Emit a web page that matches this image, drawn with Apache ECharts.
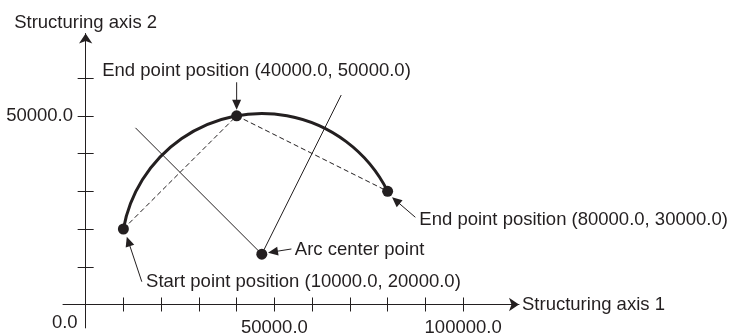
<!DOCTYPE html>
<html><head><meta charset="utf-8">
<script src="https://cdn.jsdelivr.net/npm/echarts@6/dist/echarts.min.js"></script>
<style>html,body{margin:0;padding:0;background:#fff}#c{width:732px;height:333px}</style>
</head><body><div id="c"></div>
<script>
// ---- data ----
const axisNames = ['Structuring axis 1', 'Structuring axis 2'];
const xTickValues = [10000, 20000, 30000, 40000, 50000, 60000, 70000, 80000, 90000, 100000];
const xLabelValues = [50000, 100000];
const yTickValues = [10000, 20000, 30000, 40000, 50000, 60000];
const yLabelValues = [50000];
const originLabel = '0.0';
const startPoint = [10000, 20000];
const passPoint = [40000, 50000];
const endPoint = [80000, 30000];
const centerPoint = [46667, 13333];
const bisectorA = [[13200, 46800], [46667, 13333]];
const bisectorB = [[46667, 13333], [67700, 55500]];
const pointNames = [
  'Start point position (10000.0, 20000.0)',
  'End point position (40000.0, 50000.0)',
  'End point position (80000.0, 30000.0)',
  'Arc center point'
];

// ---- style / layout ----
const INK = '#231f20';
const FONT = '"Liberation Sans", Arial, Helvetica, sans-serif';
const FS = 18.5;
const annotLayout = [
  {tip: [3.4, 7.7], tail: [18.4, 52.7], text: [22.7, 52.7]},
  {tip: [0, -6], tail: [0, -33.5], text: [-134.4, -44.5]},
  {tip: [4.4, 6], tail: [27.7, 26], text: [31.7, 28.8]},
  {tip: [6.2, -1.5], tail: [29.6, -5.2], text: [33, -4.2]}
];

const fmt = v => Number(v).toFixed(1);

function makeX(outer) {
  return {
    type: 'value', position: 'bottom', min: -6000, max: 114800,
    axisLine: {show: true, onZero: true, onZeroAxisIndex: 0,
      symbol: outer ? ['none', 'arrow'] : 'none', symbolSize: [10, 10],
      lineStyle: {color: INK, width: 1, opacity: outer ? 1 : 0}},
    axisTick: {show: true, customValues: xTickValues, inside: !outer, length: 7, lineStyle: {color: INK, width: 1}},
    axisLabel: {show: true, customValues: xLabelValues, formatter: fmt, margin: -9,
      color: outer ? INK : 'rgba(0,0,0,0)', fontSize: FS, fontFamily: FONT},
    splitLine: {show: false},
    name: outer ? axisNames[0] : '', nameLocation: 'end', nameGap: 3, nameMoveOverlap: false,
    nameTextStyle: {color: INK, fontSize: FS, fontFamily: FONT, align: 'left', verticalAlign: 'middle'}
  };
}
function makeY(outer) {
  return {
    type: 'value', position: 'left', min: -6200, max: 71800,
    axisLine: {show: true, onZero: true, onZeroAxisIndex: 0,
      symbol: outer ? ['none', 'arrow'] : 'none', symbolSize: [10, 10],
      lineStyle: {color: INK, width: 1, opacity: outer ? 1 : 0}},
    axisTick: {show: true, customValues: yTickValues, inside: !outer, length: 8, lineStyle: {color: INK, width: 1}},
    axisLabel: {show: true, customValues: yLabelValues, formatter: fmt, margin: -10,
      color: outer ? INK : 'rgba(0,0,0,0)', fontSize: FS, fontFamily: FONT},
    splitLine: {show: false},
    name: outer ? axisNames[1] : '', nameLocation: 'end', nameGap: 1, nameMoveOverlap: false,
    nameTextStyle: {color: INK, fontSize: FS, fontFamily: FONT, align: 'center', verticalAlign: 'bottom'}
  };
}

function renderArc(params, api) {
  const c = api.coord([api.value(0), api.value(1)]);
  const s = api.coord([api.value(2), api.value(3)]);
  const e = api.coord([api.value(4), api.value(5)]);
  const r = Math.hypot(s[0] - c[0], s[1] - c[1]);
  return {
    type: 'arc',
    shape: {cx: c[0], cy: c[1], r: r,
      startAngle: Math.atan2(s[1] - c[1], s[0] - c[0]),
      endAngle: Math.atan2(e[1] - c[1], e[0] - c[0]), clockwise: true},
    style: {stroke: INK, lineWidth: 3, fill: null}
  };
}

function renderAnnot(params, api) {
  const i = params.dataIndex;
  const p = api.coord([api.value(0), api.value(1)]);
  const L = annotLayout[i];
  const tip = [p[0] + L.tip[0], p[1] + L.tip[1]];
  const tail = [p[0] + L.tail[0], p[1] + L.tail[1]];
  const dx = tip[0] - tail[0], dy = tip[1] - tail[1];
  const len = Math.hypot(dx, dy);
  const ux = dx / len, uy = dy / len;
  const hl = 10, hw = 4.5;
  const base = [tip[0] - ux * hl, tip[1] - uy * hl];
  return {
    type: 'group',
    children: [
      {type: 'line', shape: {x1: tail[0], y1: tail[1], x2: base[0] + ux * 1, y2: base[1] + uy * 1},
        style: {stroke: INK, lineWidth: 1}},
      {type: 'polygon', shape: {points: [tip, [base[0] - uy * hw, base[1] + ux * hw], [base[0] + uy * hw, base[1] - ux * hw]]},
        style: {fill: INK}},
      {type: 'text', x: p[0] + L.text[0], y: p[1] + L.text[1],
        style: {text: pointNames[i], fill: INK, fontSize: FS, fontFamily: FONT, align: 'left', verticalAlign: 'middle'}}
    ]
  };
}

function renderOrigin(params, api) {
  const p = api.coord([api.value(0), api.value(1)]);
  return {type: 'text', x: p[0] - 8, y: p[1] + 18,
    style: {text: originLabel, fill: INK, fontSize: FS, fontFamily: FONT, align: 'right', verticalAlign: 'middle'}};
}

const chart = echarts.init(document.getElementById('c'), null, {renderer: 'canvas'});
chart.setOption({
  animation: false,
  backgroundColor: '#ffffff',
  textStyle: {fontFamily: FONT, color: INK},
  grid: {left: 63, right: 213, top: 33.5, bottom: 5.1, containLabel: false, outerBoundsMode: 'none'},
  xAxis: [makeX(true), makeX(false)],
  yAxis: [makeY(true), makeY(false)],
  series: [
    {type: 'line', xAxisIndex: 1, yAxisIndex: 1, data: [], symbol: 'none', silent: true},
    {type: 'line', data: [startPoint, passPoint, endPoint], symbol: 'none', silent: true, z: 2,
      lineStyle: {color: INK, width: 1, type: [5, 3]}},
    {type: 'line', data: bisectorA, symbol: 'none', silent: true, z: 2, lineStyle: {color: INK, width: 1}},
    {type: 'line', data: bisectorB, symbol: 'none', silent: true, z: 2, lineStyle: {color: INK, width: 1}},
    {type: 'custom', renderItem: renderArc, clip: false, z: 3,
      data: [[centerPoint[0], centerPoint[1], startPoint[0], startPoint[1], endPoint[0], endPoint[1]]],
      encode: {x: 0, y: 1}},
    {type: 'scatter', data: [startPoint, passPoint, endPoint, centerPoint], symbol: 'circle', symbolSize: 11, z: 4,
      itemStyle: {color: INK, opacity: 1}},
    {type: 'custom', renderItem: renderAnnot, clip: false, z: 5,
      data: [startPoint, passPoint, endPoint, centerPoint], encode: {x: 0, y: 1}},
    {type: 'custom', renderItem: renderOrigin, clip: false, z: 5, data: [[0, 0]], encode: {x: 0, y: 1}}
  ]
});
</script>
</body></html>
